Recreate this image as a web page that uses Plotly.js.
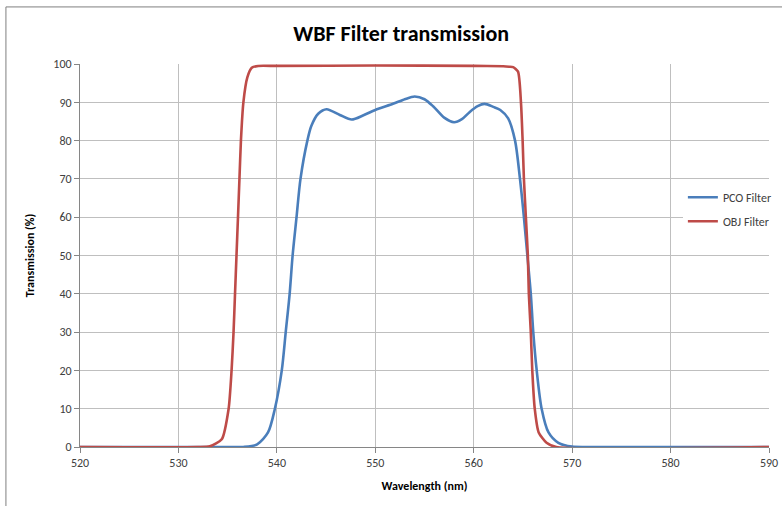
<!DOCTYPE html>
<html><head><meta charset="utf-8">
<script src="https://cdn.plot.ly/plotly-3.0.1.min.js"></script>
<style>html,body{margin:0;padding:0;background:#fff;}#chart{width:782px;height:506px;}</style>
</head><body><div id="chart"></div>
<script>
const pcoWavelength = [520,530,535,536.6,538.0,539.1,539.8,540.5,540.9,541.3,541.6,542.0,542.4,543.1,543.5,544.2,545.05,546.4,547.6,548.8,550,551.8,553,554,555,555.9,557,558,558.8,559.6,560.4,561.1,562,562.7,563.5,564.2,564.7,565.1,565.45,565.8,566.05,566.4,566.9,567.6,568.6,570,572,590];
const pcoTransmission = [0,0,0,0,0.7,3.8,10,20,30,40,50,60,70,80,83.8,87,88.2,86.7,85.5,86.6,88,89.6,90.8,91.5,90.8,88.9,86,84.8,85.6,87.5,89,89.6,88.8,88,85.8,80,70,60,50,40,30,20,10,3.8,1.1,0.1,0,0];
const objWavelength = [520,532,533.2,534.4,535.1,535.4,535.6,535.75,535.9,536.05,536.2,536.35,536.6,537.0,537.45,538.1,540,550,560,563,563.6,564.0,564.5,564.8,564.97,565.1,565.3,565.5,565.6,565.8,565.95,566.2,566.6,567.4,568.4,590];
const objTransmission = [0,0,0.2,2,10,20,30,40,50,60,70,80,90,96.5,99,99.5,99.5,99.6,99.5,99.4,99.3,99.2,98,90,80,70,60,50,40,30,20,10,3.8,1.1,0,0];
const seriesNames = ["PCO Filter","OBJ Filter"];
const xTicks = [520,530,540,550,560,570,580,590];
const yTicks = [0,10,20,30,40,50,60,70,80,90,100];

const font = "Carlito, Calibri, 'Liberation Sans Narrow', 'Open Sans', sans-serif";
const traces = [
  {x: pcoWavelength, y: pcoTransmission, name: seriesNames[0], type: 'scatter', mode: 'lines', legendgroup: 'a',
   line: {color: '#4A7EBB', width: 2.6, shape: 'spline', smoothing: 0.8}},
  {x: objWavelength, y: objTransmission, name: seriesNames[1], type: 'scatter', mode: 'lines', legendgroup: 'b',
   line: {color: '#BE4B48', width: 2.6, shape: 'spline', smoothing: 0.6}}
];
const layout = {
  width: 782, height: 506,
  margin: {l: 80, r: 13, t: 64, b: 59, autoexpand: false},
  paper_bgcolor: '#fff', plot_bgcolor: '#fff',
  font: {family: font, size: 12, color: '#404040'},
  title: {text: '<b>WBF Filter transmission</b>', x: 0.513, xanchor: 'center', y: 0.935, yanchor: 'middle',
          font: {family: font, size: 22, color: '#000'}},
  xaxis: {range: [520, 590], tickvals: xTicks, ticktext: xTicks.map(String), automargin: false,
          showgrid: true, gridcolor: '#BFBFBF', gridwidth: 1, zeroline: false,
          showline: true, linecolor: '#868686', linewidth: 1,
          ticks: 'outside', ticklen: 5, tickcolor: '#868686',
          tickfont: {size: 12, color: '#404040'},
          title: {text: '<b>Wavelength (nm)</b>', font: {size: 12, color: '#000'}, standoff: 12}},
  yaxis: {range: [0, 100], tickvals: yTicks, ticktext: yTicks.map(String), automargin: false,
          showgrid: true, gridcolor: '#BFBFBF', gridwidth: 1, zeroline: false,
          showline: true, linecolor: '#868686', linewidth: 1,
          ticks: 'outside', ticklen: 5, tickcolor: '#868686',
          tickfont: {size: 12, color: '#404040'},
          title: {text: '<b>Transmission (%)</b>', font: {size: 12, color: '#000'}, standoff: 16}},
  showlegend: true,
  legend: {x: 0.875, xanchor: 'left', y: 0.69, yanchor: 'top', bgcolor: '#fff',
           font: {size: 12, color: '#404040'}, itemwidth: 30, tracegroupgap: 5},
  shapes: [
    {type: 'line', xref: 'paper', yref: 'paper', x0: -0.1075, x1: -0.1075, y0: -0.2, y1: 1.149, line: {color: '#7F7F7F', width: 1}},
    {type: 'line', xref: 'paper', yref: 'paper', x0: -0.1075, x1: 1.03, y0: 1.149, y1: 1.149, line: {color: '#7F7F7F', width: 1}}
  ]
};
Plotly.newPlot('chart', traces, layout, {staticPlot: true, displayModeBar: false});
</script></body></html>
